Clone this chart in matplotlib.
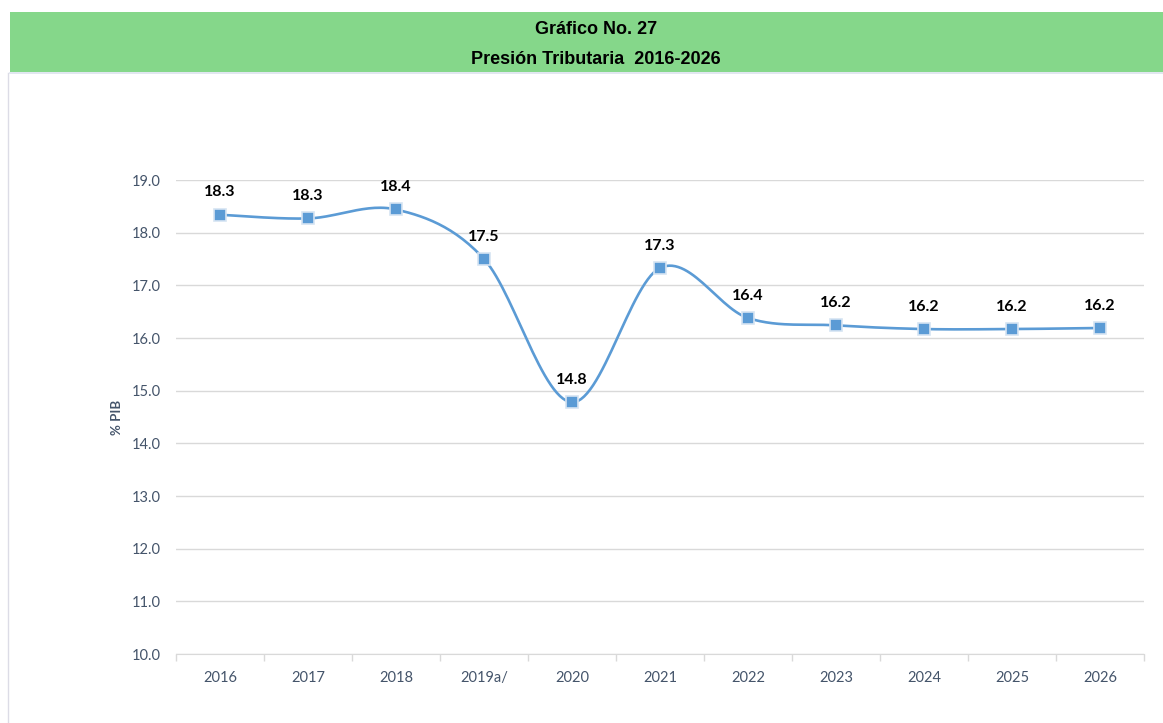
import numpy as np
import matplotlib.pyplot as plt
from matplotlib.patches import Rectangle
from matplotlib.lines import Line2D

years = ["2016", "2017", "2018", "2019a/", "2020", "2021", "2022", "2023", "2024", "2025", "2026"]
presion = [18.34, 18.27, 18.44, 17.50, 14.78, 17.33, 16.38, 16.24, 16.17, 16.17, 16.19]
y_ticks = [10.0, 11.0, 12.0, 13.0, 14.0, 15.0, 16.0, 17.0, 18.0, 19.0]

title1 = "Gráfico No. 27"
title2 = "Presión Tributaria  2016-2026"

line_color = "#5B9BD5"
tick_color = "#44546A"
label_font = ["Lato", "DejaVu Sans"]
title_font = ["Liberation Sans Narrow", "Liberation Sans", "DejaVu Sans"]


def smooth(xs, ys, n=30):
    # Catmull-Rom style smoothing like Excel's smoothed line
    p = np.column_stack([xs, ys]).astype(float)
    pts = np.vstack([p[0], p, p[-1]])
    out = []
    for i in range(1, len(pts) - 2):
        p0, p1, p2, p3 = pts[i - 1], pts[i], pts[i + 1], pts[i + 2]
        c1 = p1 + (p2 - p0) / 6
        c2 = p2 - (p3 - p1) / 6
        t = np.linspace(0, 1, n)[:, None]
        seg = (1 - t) ** 3 * p1 + 3 * (1 - t) ** 2 * t * c1 + 3 * (1 - t) * t ** 2 * c2 + t ** 3 * p2
        out.append(seg if i == 1 else seg[1:])
    out = np.vstack(out)
    return out[:, 0], out[:, 1]


fig = plt.figure(figsize=(11.63, 7.23), dpi=100)

# header band
fig.patches.append(Rectangle((10 / 1163, 1 - 72 / 723), 1 - 10 / 1163, 60 / 723,
                             transform=fig.transFigure, facecolor="#85D78A", edgecolor="none"))
fig.lines.append(Line2D([10 / 1163, 1], [1 - 73 / 723, 1 - 73 / 723], transform=fig.transFigure,
                        color="#DCE3EE", lw=1.2))
fig.lines.append(Line2D([8 / 1163, 8 / 1163], [0, 1 - 73 / 723], transform=fig.transFigure,
                        color="#DCDCE6", lw=1))
fig.text(596 / 1163, 1 - 29 / 723, title1, ha="center", va="center", fontsize=13,
         fontweight="bold", family=title_font)
fig.text(596 / 1163, 1 - 60 / 723, title2, ha="center", va="center", fontsize=13,
         fontweight="bold", family=title_font)

ax = fig.add_axes([176 / 1163, 1 - 654 / 723, (1144 - 176) / 1163, (654 - 180) / 723])
x = np.arange(len(years))
sx, sy = smooth(x, presion)
ax.plot(sx, sy, color=line_color, lw=1.9, solid_capstyle="round", zorder=3)
ax.plot(x, presion, ls="none", marker="s", ms=8.5, mfc=line_color, mec="#D6E4F2", mew=1.2, zorder=4)

for xi, v in zip(x, presion):
    ax.annotate(f"{v:.1f}", (xi, v), xytext=(0, 11), textcoords="offset points",
                ha="center", va="bottom", fontsize=11.5, fontweight="bold", family=label_font,
                annotation_clip=False)

ax.set_xlim(-0.5, len(years) - 0.5)
ax.set_ylim(10, 19)
ax.set_yticks(y_ticks)
ax.set_yticklabels([f"{t:.1f}" for t in y_ticks])
ax.set_xticks(x)
ax.set_xticklabels(years)
ax.set_xticks(np.arange(len(years) + 1) - 0.5, minor=True)
ax.tick_params(axis="x", which="major", length=0, pad=12, labelsize=10.5, labelcolor=tick_color)
ax.tick_params(axis="x", which="minor", length=5, color="#D9D9D9", width=1)
ax.tick_params(axis="y", length=0, pad=11, labelsize=10.5, labelcolor=tick_color)
for lab in ax.get_xticklabels() + ax.get_yticklabels():
    lab.set_family(label_font)

ax.grid(axis="y", color="#D9D9D9", lw=1)
ax.set_axisbelow(True)
for s in ["top", "right", "left"]:
    ax.spines[s].set_visible(False)
ax.spines["bottom"].set_color("#D9D9D9")
ax.set_ylabel("% PIB", fontsize=9.5, fontweight="bold", color=tick_color, family=label_font, labelpad=6)

fig.savefig("out.png", dpi=100)
